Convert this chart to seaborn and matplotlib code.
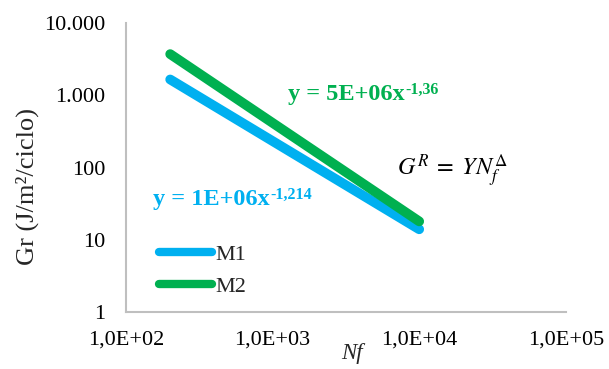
import matplotlib
matplotlib.use("Agg")
import matplotlib.pyplot as plt
import seaborn as sns
import pandas as pd
from matplotlib.ticker import FixedLocator, FixedFormatter, NullLocator

# Fatigue data: energy per cycle versus cycles to failure (power-law fits)
series = ["M1", "M2"]
nf = [200, 10000]
gr_m1 = [1650, 14]
gr_m2 = [3700, 18]
colors = ["#00B0F0", "#00B050"]
y_ticks = [1, 10, 100, 1000, 10000]
y_tick_labels = ["1", "10", "100", "1.000", "10.000"]
x_ticks = [1e2, 1e3, 1e4, 1e5]
x_tick_labels = ["1,0E+02", "1,0E+03", "1,0E+04", "1,0E+05"]
eq_m1 = ("y = 1E+06x", "-1,214")
eq_m2 = ("y = 5E+06x", "-1,36")

df = pd.DataFrame({
    "Nf": nf + nf,
    "Gr": gr_m1 + gr_m2,
    "serie": [series[0]] * len(nf) + [series[1]] * len(nf),
})

sns.set_style("white")
plt.rcParams["font.family"] = ["Liberation Serif", "DejaVu Serif"]
plt.rcParams["mathtext.fontset"] = "stix"

fig = plt.figure(figsize=(6.09, 3.69), dpi=100)
ax = fig.add_axes([0.207, 0.154, 0.722, 0.784])

sns.lineplot(data=df, x="Nf", y="Gr", hue="serie", palette=colors,
             linewidth=7, ax=ax, legend=True)
for ln in ax.get_lines():
    ln.set_solid_capstyle("round")

ax.set_xscale("log")
ax.set_yscale("log")
ax.set_xlim(1e2, 1e5)
ax.set_ylim(1, 1e4)

ax.xaxis.set_major_locator(FixedLocator(x_ticks))
ax.xaxis.set_major_formatter(FixedFormatter(x_tick_labels))
ax.xaxis.set_minor_locator(NullLocator())
ax.yaxis.set_major_locator(FixedLocator(y_ticks))
ax.yaxis.set_major_formatter(FixedFormatter(y_tick_labels))
ax.yaxis.set_minor_locator(NullLocator())
ax.tick_params(axis="both", length=0, labelsize=16, colors="#000000")
ax.tick_params(axis="x", pad=13)
ax.tick_params(axis="y", pad=15)

for side in ["top", "right"]:
    ax.spines[side].set_visible(False)
for side in ["left", "bottom"]:
    ax.spines[side].set_color("#BFBFBF")
    ax.spines[side].set_linewidth(1.5)

ax.set_xlabel("Nf", fontsize=16.5, style="italic", va="center")
ax.xaxis.set_label_coords(0.514, -0.142)
ax.set_ylabel("Gr (J/m²/ciclo)", fontsize=19, va="center")
ax.yaxis.set_label_coords(-0.225, 0.436)


def equation(x, y, parts, color):
    base = ax.text(x, y, parts[0], transform=ax.transAxes, color=color,
                   fontsize=17.5, fontweight="bold", ha="left", va="center")
    ax.annotate(parts[1], xy=(1.0, 1.0), xycoords=base, xytext=(0.5, 1),
                textcoords="offset points", color=color, fontsize=11.5,
                fontweight="bold", ha="left", va="top")


# Trendline equations and model expression
equation(0.368, 0.754, eq_m2, colors[1])
equation(0.061, 0.391, eq_m1, colors[0])
ax.text(0.616, 0.488, "$G^R\\;=\\;YN_f^{\\Delta}$", transform=ax.transAxes,
        color="#000000", fontsize=17.5, ha="left", va="center")

leg = ax.legend(loc="upper left", bbox_to_anchor=(0.055, 0.265), frameon=False,
                fontsize=16, handlelength=2.4, handletextpad=0.15,
                labelspacing=0.5, borderaxespad=0)
for h in leg.get_lines():
    h.set_linewidth(6)
    h.set_solid_capstyle("round")

fig.savefig("out.png", dpi=100, facecolor="white")
